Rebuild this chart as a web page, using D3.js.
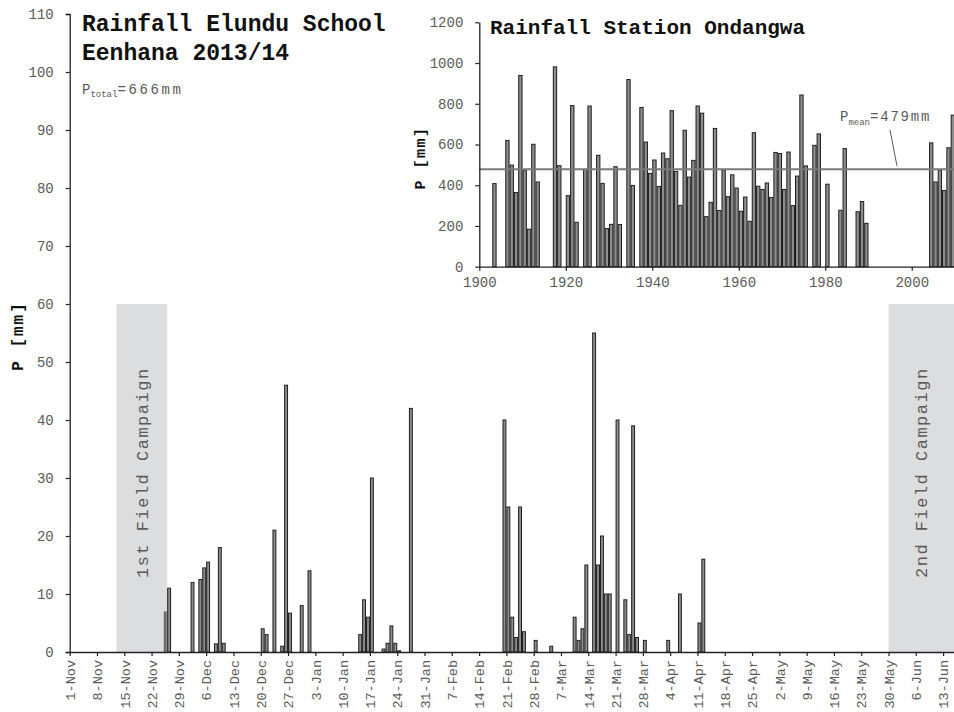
<!DOCTYPE html>
<html>
<head>
<meta charset="utf-8">
<script src="https://cdn.jsdelivr.net/npm/d3@7/dist/d3.min.js"></script>
<style>
  html, body { margin: 0; padding: 0; background: #fff; }
  svg { display: block; }
  text { font-family: "Liberation Mono", "DejaVu Sans Mono", monospace; }
</style>
</head>
<body>
<svg id="chart" width="954" height="712"></svg>
<script>
// Daily rainfall, Elundu School (Eenhana), season 2013/14 [mm]
const rainDates = [
  "2013-11-25","2013-11-26","2013-12-02","2013-12-04","2013-12-05","2013-12-06",
  "2013-12-08","2013-12-09","2013-12-10","2013-12-20","2013-12-21","2013-12-23",
  "2013-12-25","2013-12-26","2013-12-27","2013-12-30","2014-01-01","2014-01-14",
  "2014-01-15","2014-01-16","2014-01-17","2014-01-20","2014-01-21","2014-01-22",
  "2014-01-23","2014-01-24","2014-01-27","2014-02-20","2014-02-21","2014-02-22",
  "2014-02-23","2014-02-24","2014-02-25","2014-02-28","2014-03-04","2014-03-10",
  "2014-03-11","2014-03-12","2014-03-13","2014-03-15","2014-03-16","2014-03-17",
  "2014-03-18","2014-03-19","2014-03-21","2014-03-23","2014-03-24","2014-03-25",
  "2014-03-26","2014-03-28","2014-04-03","2014-04-06","2014-04-11","2014-04-12"
];
const rainValues = [
  7, 11, 12, 12.5, 14.5, 15.5,
  1.4, 18, 1.5, 4, 3, 21,
  1, 46, 6.7, 8, 14, 3,
  9, 6, 30, 0.5, 1.5, 4.5,
  1.5, 0.2, 42, 40, 25, 6,
  2.5, 25, 3.5, 2, 1, 6,
  2, 4, 15, 55, 15, 20,
  10, 10, 40, 9, 3, 39,
  2.5, 2, 2, 10, 5, 16
];

// Axis tick dates (weekly) and y ticks of the daily chart
const dayTicks = [
  "2013-11-01","2013-11-08","2013-11-15","2013-11-22","2013-11-29","2013-12-06",
  "2013-12-13","2013-12-20","2013-12-27","2014-01-03","2014-01-10","2014-01-17",
  "2014-01-24","2014-01-31","2014-02-07","2014-02-14","2014-02-21","2014-02-28",
  "2014-03-07","2014-03-14","2014-03-21","2014-03-28","2014-04-04","2014-04-11",
  "2014-04-18","2014-04-25","2014-05-02","2014-05-09","2014-05-16","2014-05-23",
  "2014-05-30","2014-06-06","2014-06-13"
];
const dailyYTicks = [0, 10, 20, 30, 40, 50, 60, 70, 80, 90, 100, 110];

// Field campaigns (start inclusive, end exclusive)
const campaignNames = ["1st Field Campaign", "2nd Field Campaign"];
const campaignStarts = ["2013-11-13", "2014-05-30"];
const campaignEnds = ["2013-11-26", "2014-06-16"];
const campaignTop = 60;

const seasonTotal = 666;

// Annual rainfall, station Ondangwa [mm]
const stationYears = [
  1903, 1906, 1907, 1908, 1909, 1910, 1911, 1912, 1913, 1917, 1918, 1920, 1921,
  1922, 1924, 1925, 1927, 1928, 1929, 1930, 1931, 1932, 1934, 1935, 1937, 1938,
  1939, 1940, 1941, 1942, 1943, 1944, 1945, 1946, 1947, 1948, 1949, 1950, 1951,
  1952, 1953, 1954, 1955, 1956, 1957, 1958, 1959, 1960, 1961, 1962, 1963, 1964,
  1965, 1966, 1967, 1968, 1969, 1970, 1971, 1972, 1973, 1974, 1975, 1977, 1978,
  1980, 1983, 1984, 1987, 1988, 1989, 2004, 2005, 2006, 2007, 2008, 2009
];
const stationValues = [
  408, 620, 499, 364, 939, 475, 184, 601, 416, 981, 496, 349, 791,
  218, 478, 789, 547, 409, 187, 208, 491, 207, 919, 399, 782, 612,
  458, 524, 394, 558, 530, 766, 468, 301, 670, 440, 522, 789, 754,
  246, 316, 679, 276, 475, 344, 451, 386, 272, 342, 223, 658, 395,
  379, 411, 340, 561, 556, 379, 563, 300, 445, 843, 495, 596, 652,
  405, 277, 580, 270, 320, 213, 608, 416, 475, 374, 584, 744
];
const stationXTicks = [1900, 1920, 1940, 1960, 1980, 2000];
const stationYTicks = [0, 200, 400, 600, 800, 1000, 1200];
const stationMean = 479;

const parse = d3.utcParse("%Y-%m-%d");
const fmtTick = d3.utcFormat("%-d-%b");
const svg = d3.select("#chart");

const labelGrey = "#5a5a5a";
const axisCol = "#222";
const barFill = "#8e8e8e";
const barStroke = "#1e1e1e";
const shadeFill = "#dcdddf";

/* ---------- daily chart ---------- */
const x = d3.scaleUtc()
  .domain([parse("2013-11-01"), parse("2014-06-16")])
  .range([69.7, 954.8]);
const y = d3.scaleLinear().domain([0, 110]).range([652, 14]);

const rain = rainDates.map((d, i) => ({ date: parse(d), value: rainValues[i] }));
const campaigns = campaignNames.map((n, i) => ({
  name: n, start: parse(campaignStarts[i]), end: parse(campaignEnds[i])
}));
const inCampaign = d => campaigns.some(c => d >= c.start && d < c.end);

// campaign shading
svg.append("g").selectAll("rect").data(campaigns).join("rect")
  .attr("x", d => x(d.start))
  .attr("y", y(campaignTop))
  .attr("width", d => Math.min(x(d.end), 954) - x(d.start))
  .attr("height", y(0) - y(campaignTop))
  .attr("fill", shadeFill);

// daily bars
svg.append("g").selectAll("rect").data(rain).join("rect")
  .attr("x", d => x(d.date) + 0.5)
  .attr("y", d => y(d.value))
  .attr("width", d => x(d3.utcDay.offset(d.date, 1)) - x(d.date) - 1)
  .attr("height", d => y(0) - y(d.value))
  .attr("fill", d => inCampaign(d.date) ? "#6c6c6c" : barFill)
  .attr("stroke", d => inCampaign(d.date) ? "none" : barStroke)
  .attr("stroke-width", 1);

// campaign labels
svg.append("g").selectAll("text").data(campaigns).join("text")
  .attr("transform", d => {
    const cx = (x(d.start) + Math.min(x(d.end), 954)) / 2;
    return `translate(${cx + 6},578) rotate(-90)`;
  })
  .attr("font-size", 17)
  .attr("letter-spacing", 1.5)
  .attr("fill", labelGrey)
  .text(d => d.name);

// y axis
const yAxis = svg.append("g")
  .attr("transform", `translate(${x.range()[0]},0)`)
  .call(d3.axisLeft(y).tickValues(dailyYTicks).tickSize(4).tickPadding(12));
yAxis.select(".domain").attr("stroke", axisCol).attr("stroke-width", 1.3);
yAxis.selectAll(".tick line").attr("stroke", axisCol).attr("stroke-width", 1.2);
yAxis.selectAll(".tick text")
  .attr("font-family", "Liberation Mono").attr("font-size", 14).attr("fill", labelGrey);

// x axis
const xAxis = svg.append("g")
  .attr("transform", `translate(0,${y(0)})`)
  .call(d3.axisBottom(x).tickValues(dayTicks.map(parse)).tickFormat(fmtTick)
    .tickSize(4).tickSizeOuter(0));
xAxis.select(".domain").attr("stroke", axisCol).attr("stroke-width", 1.3);
xAxis.selectAll(".tick line").attr("stroke", axisCol).attr("stroke-width", 1.2);
xAxis.selectAll(".tick text")
  .attr("font-family", "Liberation Mono").attr("font-size", 13.5).attr("fill", labelGrey)
  .attr("text-anchor", "end")
  .attr("transform", "rotate(-90)")
  .attr("x", -8).attr("y", 0).attr("dy", "0.35em");

// y title
svg.append("text")
  .attr("transform", "translate(23,336) rotate(-90)")
  .attr("text-anchor", "middle")
  .attr("font-size", 16).attr("font-weight", "bold").attr("letter-spacing", 2)
  .attr("fill", "#111")
  .text("P [mm]");

// title
const title = svg.append("text")
  .attr("font-size", 23).attr("font-weight", "bold").attr("fill", "#111");
title.append("tspan").attr("x", 82).attr("y", 31).text("Rainfall Elundu School");
title.append("tspan").attr("x", 82).attr("y", 60).text("Eenhana 2013/14");

// seasonal total
const tot = svg.append("text").attr("x", 82).attr("y", 94)
  .attr("font-size", 14).attr("fill", labelGrey);
tot.append("tspan").text("P");
tot.append("tspan").attr("font-size", 9).attr("dy", 3).text("total");
tot.append("tspan").attr("dy", -3).attr("letter-spacing", 2.6).text(`=${seasonTotal}mm`);

/* ---------- inset: annual rainfall Ondangwa ---------- */
const xs = d3.scaleLinear().domain([1900, 2010]).range([479.3, 955]);
const ys = d3.scaleLinear().domain([0, 1200]).range([266.7, 22.3]);
const station = stationYears.map((yr, i) => ({ year: yr, value: stationValues[i] }));

svg.append("g").selectAll("rect").data(station).join("rect")
  .attr("x", d => xs(d.year) + 0.5)
  .attr("y", d => ys(d.value))
  .attr("width", d => xs(d.year + 1) - xs(d.year) - 1)
  .attr("height", d => ys(0) - ys(d.value))
  .attr("fill", barFill)
  .attr("stroke", barStroke)
  .attr("stroke-width", 1);

// mean line
svg.append("line")
  .attr("x1", xs(1900)).attr("x2", 954)
  .attr("y1", ys(stationMean)).attr("y2", ys(stationMean))
  .attr("stroke", "#7a7a7a").attr("stroke-width", 2);

// mean annotation with leader
svg.append("line")
  .attr("x1", 890).attr("y1", 130).attr("x2", 897).attr("y2", 166)
  .attr("stroke", labelGrey).attr("stroke-width", 1);
const mean = svg.append("text").attr("x", 840).attr("y", 121)
  .attr("font-size", 14).attr("fill", labelGrey);
mean.append("tspan").text("P");
mean.append("tspan").attr("font-size", 9).attr("dy", 4).text("mean");
mean.append("tspan").attr("dy", -4).attr("letter-spacing", 1.8).text(`=${stationMean}mm`);

// inset axes
const ysAxis = svg.append("g")
  .attr("transform", `translate(${xs(1900)},0)`)
  .call(d3.axisLeft(ys).tickValues(stationYTicks).tickFormat(d3.format("d"))
    .tickSize(4).tickPadding(12).tickSizeOuter(0));
ysAxis.select(".domain").attr("stroke", axisCol).attr("stroke-width", 1.3);
ysAxis.selectAll(".tick line").attr("stroke", axisCol).attr("stroke-width", 1.2);
ysAxis.selectAll(".tick text")
  .attr("font-family", "Liberation Mono").attr("font-size", 14).attr("fill", labelGrey);

const xsAxis = svg.append("g")
  .attr("transform", `translate(0,${ys(0)})`)
  .call(d3.axisBottom(xs).tickValues(stationXTicks).tickFormat(d3.format("d"))
    .tickSize(4).tickSizeOuter(0).tickPadding(6));
xsAxis.select(".domain").attr("stroke", axisCol).attr("stroke-width", 1.3);
xsAxis.selectAll(".tick line").attr("stroke", axisCol).attr("stroke-width", 1.2);
xsAxis.selectAll(".tick text")
  .attr("font-family", "Liberation Mono").attr("font-size", 14).attr("fill", labelGrey);

svg.append("text")
  .attr("transform", "translate(425,158) rotate(-90)")
  .attr("text-anchor", "middle")
  .attr("font-size", 15).attr("font-weight", "bold").attr("letter-spacing", 1.5)
  .attr("fill", "#111")
  .text("P [mm]");

svg.append("text").attr("x", 490).attr("y", 34)
  .attr("font-size", 21).attr("font-weight", "bold").attr("fill", "#111")
  .text("Rainfall Station Ondangwa");
</script>
</body>
</html>
